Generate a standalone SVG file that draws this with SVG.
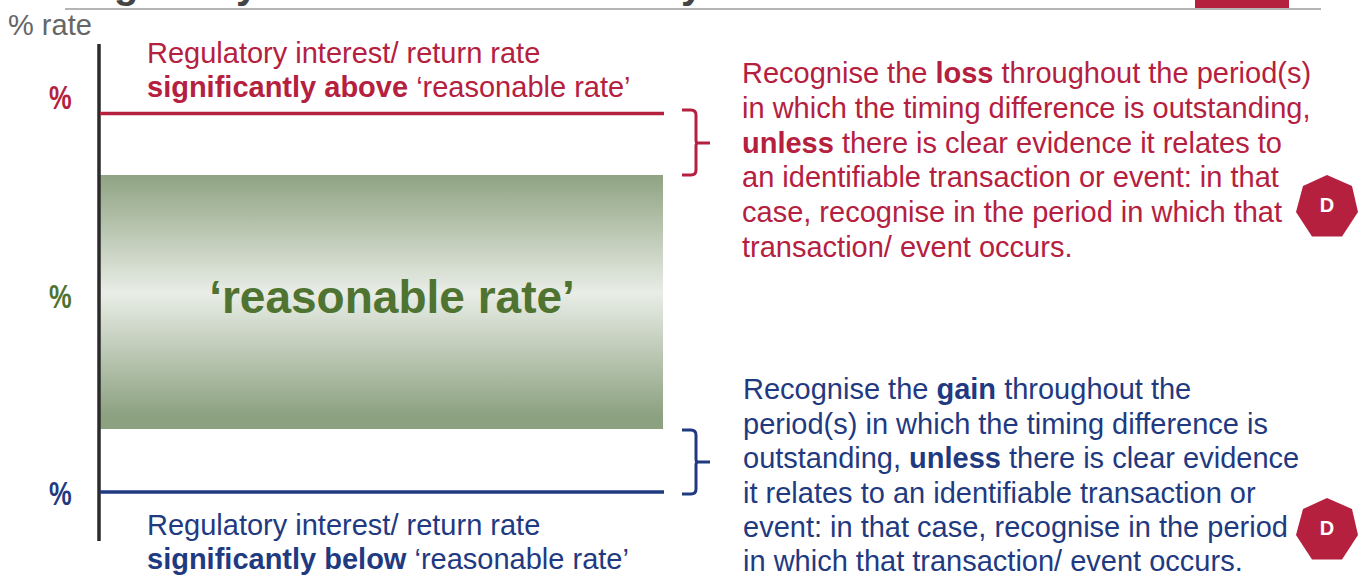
<svg xmlns="http://www.w3.org/2000/svg" width="1358" height="575" viewBox="0 0 1358 575">
<style>
text{font-family:"Liberation Sans",Arial,sans-serif;font-size:29px}
.r{fill:#b5203f}.g{fill:#4f7330}.b{fill:#1f3a80}.k{fill:#666}
.bd{font-weight:700}
.br{fill:none;stroke-width:3;stroke-linejoin:round}
.d{font-size:20px;fill:#fff;font-weight:700;text-anchor:middle}
.t{font-size:40px;font-weight:700;fill:#444}
</style>
<defs>
<linearGradient id="gr" x1="0" y1="0" x2="0" y2="1">
<stop offset="0" stop-color="#8fa382"/><stop offset=".465" stop-color="#e9ede6"/><stop offset=".95" stop-color="#8ca180"/><stop offset="1" stop-color="#8ca180"/>
</linearGradient>
<polygon id="hep" points="0,-31 25,-20 31,6 15,30.500 -15,30.500 -31,6 -24,-20"/>
</defs>
<rect width="1358" height="575" fill="#fff"/>
<g id="title"><text x="114" y="-2" class="t">g</text><text x="236" y="-2" class="t">y</text><text x="681" y="-2" class="t">y</text></g>
<rect x="65" y="8" width="1256" height="2" fill="#b4b4b4"/>
<rect x="1195" y="0" width="94" height="8" fill="#b5203f"/>
<text x="8" y="35" class="k">% rate</text>
<g id="band"><rect x="100" y="175" width="563" height="254" fill="url(#gr)"/>
<text x="392" y="313" text-anchor="middle" class="g bd" style="font-size:46px">‘reasonable rate’</text></g>
<g id="connectors">
<line x1="99" y1="44" x2="99" y2="541" stroke="#2b2b2b" stroke-width="3.5"/>
<line x1="100" y1="113.500" x2="664" y2="113.500" stroke="#b5203f" stroke-width="3.500"/>
<line x1="100" y1="492" x2="664" y2="492" stroke="#1f3a80" stroke-width="3.500"/>
<path class="br" stroke="#b5203f" d="M682 110H691Q696 110 696 115V140Q696 143 698 143H710M698 143Q696 143 696 146V170Q696 175 691 175H682"/>
<path class="br" stroke="#1f3a80" d="M682 430H691Q696 430 696 435V459Q696 462 698 462H710M698 462Q696 462 696 465V489Q696 494 691 494H682"/>
</g>
<g id="top-label"><text x="147" y="63" class="r">Regulatory interest/ return rate</text>
<text x="147" y="97" class="r"><tspan class="bd">significantly above</tspan> ‘reasonable rate’</text>
<text transform="translate(49 109) scale(.88 1.15)" class="r bd">%</text></g>
<text transform="translate(49 308) scale(.88 1.15)" class="g bd">%</text>
<g id="bottom-label"><text x="147" y="535" class="b">Regulatory interest/ return rate</text>
<text x="147" y="569" class="b"><tspan class="bd">significantly below</tspan> ‘reasonable rate’</text>
<text transform="translate(49 505) scale(.88 1.15)" class="b bd">%</text></g>
<g id="loss-text">
<text x="742" y="83" class="r">Recognise the <tspan class="bd">loss</tspan> throughout the period(s)</text>
<text x="742" y="118" class="r">in which the timing difference is outstanding,</text>
<text x="742" y="153" class="r"><tspan class="bd">unless</tspan> there is clear evidence it relates to</text>
<text x="742" y="187" class="r">an identifiable transaction or event: in that</text>
<text x="742" y="222" class="r">case, recognise in the period in which that</text>
<text x="742" y="257" class="r">transaction/ event occurs.</text></g>
<g id="gain-text">
<text x="743" y="399" class="b">Recognise the <tspan class="bd">gain</tspan> throughout the</text>
<text x="743" y="434" class="b">period(s) in which the timing difference is</text>
<text x="743" y="468" class="b">outstanding, <tspan class="bd">unless</tspan> there is clear evidence</text>
<text x="743" y="503" class="b">it relates to an identifiable transaction or</text>
<text x="743" y="537" class="b">event: in that case, recognise in the period</text>
<text x="743" y="571" class="b">in which that transaction/ event occurs.</text></g>
<g id="badge-1"><use href="#hep" x="1327" y="206" class="r"/><text x="1327" y="212" class="d">D</text></g>
<g id="badge-2"><use href="#hep" x="1327" y="529" class="r"/><text x="1327" y="535" class="d">D</text></g>
</svg>
